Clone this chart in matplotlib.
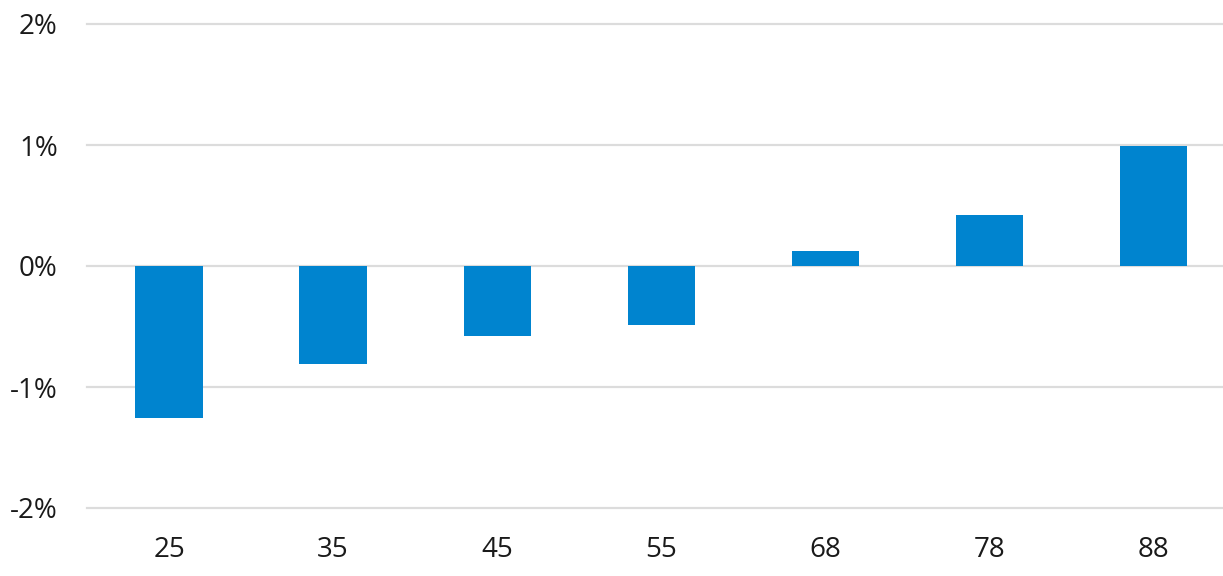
import matplotlib
matplotlib.use("Agg")
import matplotlib.pyplot as plt
from matplotlib.ticker import FuncFormatter

categories = ["25", "35", "45", "55", "68", "78", "88"]
values = [-1.26, -0.81, -0.58, -0.49, 0.12, 0.42, 0.99]
yticks = [-2, -1, 0, 1, 2]

plt.rcParams['font.family'] = ['Open Sans', 'DejaVu Sans']

W, H = 1223, 576
fig = plt.figure(figsize=(W/100, H/100), dpi=100)
ax = fig.add_axes([87/W, 1 - 508/H, (W - 87)/W, (508 - 24)/H])

x = list(range(len(categories)))
ax.bar(x, values, width=0.41, color="#0084CF", zorder=3)

for t in yticks:
    ax.axhline(t, color="#dcdcdc", lw=1.6, zorder=1, clip_on=False)

ax.set_ylim(-2, 2)
ax.set_xlim(-0.5, (W - 169.5) / 164)
ax.set_yticks(yticks)
ax.yaxis.set_major_formatter(FuncFormatter(lambda v, p: f"{int(v)}%"))
ax.set_xticks(x)
ax.set_xticklabels(categories)
for s in ax.spines.values():
    s.set_visible(False)
ax.tick_params(axis='both', length=0, labelsize=20, colors="#1a1a1a")
ax.tick_params(axis='y', pad=21)
ax.tick_params(axis='x', pad=20)

fig.savefig("out.png", dpi=100)
